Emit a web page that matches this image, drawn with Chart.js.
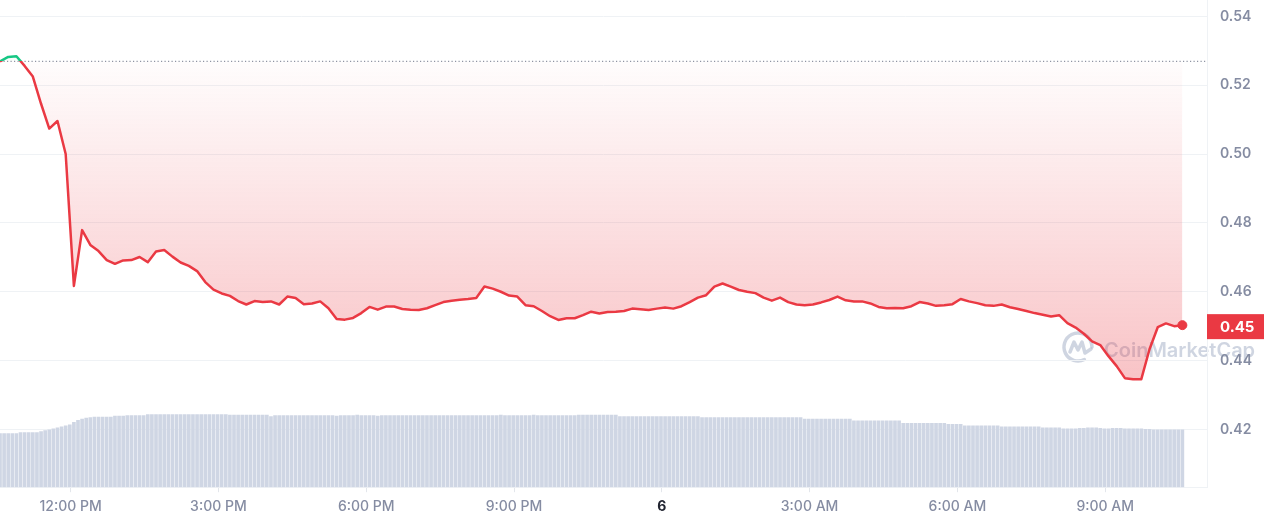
<!DOCTYPE html>
<html>
<head>
<meta charset="utf-8">
<title>Price chart</title>
<script src="https://cdn.jsdelivr.net/npm/chart.js@4.4.1/dist/chart.umd.min.js"></script>
<style>
  html, body { margin: 0; padding: 0; background: #ffffff; }
  #priceChart { display: block; }
</style>
</head>
<body>
<canvas id="priceChart" width="1265" height="522"></canvas>
<script>
// x values are minutes after the first sample (10:34 AM)
const tickTimes = [86, 266, 446, 626, 806, 986, 1166, 1346];
const tickLabels = ['12:00 PM', '3:00 PM', '6:00 PM', '9:00 PM', '6', '3:00 AM', '6:00 AM', '9:00 AM'];
const priceTicks = [0.42, 0.44, 0.46, 0.48, 0.50, 0.52, 0.54];

const openPrice = 0.5269;

// one price every 10 minutes
const prices = [
    0.5269, 0.5282, 0.5284, 0.5256, 0.5225, 0.5146, 0.5074, 0.5096, 0.5000, 0.4617,
    0.4779, 0.4736, 0.4718, 0.4692, 0.4681, 0.4691, 0.4692, 0.4701, 0.4686, 0.4717,
    0.4721, 0.4702, 0.4685, 0.4675, 0.4660, 0.4628, 0.4606, 0.4595, 0.4588, 0.4573,
    0.4563, 0.4573, 0.4570, 0.4572, 0.4563, 0.4586, 0.4582, 0.4564, 0.4566, 0.4572,
    0.4552, 0.4521, 0.4519, 0.4524, 0.4538, 0.4556, 0.4548, 0.4557, 0.4557, 0.4550,
    0.4548, 0.4547, 0.4552, 0.4561, 0.4570, 0.4574, 0.4577, 0.4579, 0.4582, 0.4615,
    0.4609, 0.4600, 0.4589, 0.4586, 0.4561, 0.4558, 0.4544, 0.4529, 0.4518, 0.4523,
    0.4523, 0.4532, 0.4542, 0.4537, 0.4541, 0.4542, 0.4544, 0.4551, 0.4549, 0.4547,
    0.4551, 0.4554, 0.4551, 0.4558, 0.4570, 0.4583, 0.4590, 0.4615, 0.4624, 0.4615,
    0.4605, 0.4600, 0.4596, 0.4583, 0.4574, 0.4583, 0.4570, 0.4563, 0.4561, 0.4563,
    0.4569, 0.4576, 0.4586, 0.4575, 0.4572, 0.4572, 0.4566, 0.4556, 0.4552, 0.4553,
    0.4552, 0.4558, 0.4570, 0.4566, 0.4559, 0.4561, 0.4564, 0.4579, 0.4572, 0.4567,
    0.4561, 0.4559, 0.4563, 0.4555, 0.4550, 0.4544, 0.4538, 0.4533, 0.4528, 0.4532,
    0.4509, 0.4496, 0.4478, 0.4456, 0.4445, 0.4413, 0.4384, 0.4349, 0.4346, 0.4346,
    0.4433, 0.4497, 0.4508, 0.4500, 0.4503
];

// one volume bar every 5 minutes (millions)
const volumes = [
    11.0, 11.0, 11.0, 11.0, 11.0, 11.2, 11.2, 11.2, 11.2, 11.2, 11.4, 11.6, 11.8, 12.0, 12.2, 12.4, 12.6, 12.8, 13.3, 13.7,
    14.0, 14.2, 14.3, 14.4, 14.4, 14.4, 14.4, 14.4, 14.6, 14.6, 14.6, 14.7, 14.7, 14.7, 14.7, 14.7, 14.9, 14.9, 14.9, 14.9,
    14.9, 14.9, 14.9, 14.9, 14.9, 14.9, 14.9, 14.9, 14.9, 14.9, 14.9, 14.9, 14.9, 14.9, 14.9, 14.9, 14.8, 14.8, 14.8, 14.8,
    14.8, 14.8, 14.8, 14.8, 14.8, 14.8, 14.5, 14.7, 14.7, 14.7, 14.7, 14.7, 14.7, 14.7, 14.7, 14.7, 14.7, 14.7, 14.7, 14.7,
    14.7, 14.7, 14.6, 14.7, 14.7, 14.7, 14.7, 14.8, 14.7, 14.7, 14.7, 14.7, 14.6, 14.7, 14.7, 14.7, 14.7, 14.7, 14.7, 14.7,
    14.7, 14.7, 14.7, 14.7, 14.7, 14.7, 14.7, 14.7, 14.7, 14.7, 14.7, 14.7, 14.7, 14.7, 14.7, 14.7, 14.7, 14.7, 14.7, 14.7,
    14.7, 14.7, 14.8, 14.7, 14.7, 14.7, 14.7, 14.7, 14.7, 14.7, 14.8, 14.7, 14.7, 14.7, 14.7, 14.7, 14.7, 14.7, 14.7, 14.7,
    14.7, 14.8, 14.8, 14.8, 14.8, 14.8, 14.8, 14.8, 14.8, 14.8, 14.8, 14.5, 14.5, 14.5, 14.5, 14.5, 14.5, 14.5, 14.5, 14.5,
    14.5, 14.5, 14.5, 14.5, 14.5, 14.5, 14.5, 14.5, 14.5, 14.5, 14.5, 14.3, 14.3, 14.3, 14.3, 14.3, 14.3, 14.3, 14.3, 14.3,
    14.3, 14.3, 14.3, 14.3, 14.3, 14.3, 14.3, 14.3, 14.3, 14.3, 14.3, 14.3, 14.3, 14.3, 14.3, 14.3, 14.0, 14.0, 14.0, 14.0,
    14.0, 14.0, 14.0, 14.0, 14.0, 14.0, 14.0, 14.0, 13.6, 13.6, 13.6, 13.6, 13.6, 13.6, 13.6, 13.6, 13.6, 13.6, 13.6, 13.6,
    13.1, 13.1, 13.1, 13.1, 13.1, 13.1, 13.1, 13.1, 13.1, 13.1, 13.1, 12.9, 12.9, 12.9, 12.9, 12.6, 12.6, 12.6, 12.6, 12.6,
    12.6, 12.6, 12.6, 12.6, 12.4, 12.4, 12.4, 12.4, 12.4, 12.4, 12.4, 12.4, 12.4, 12.4, 12.2, 12.2, 12.2, 12.2, 12.2, 12.0,
    12.0, 12.0, 12.0, 12.1, 12.1, 12.2, 12.2, 12.2, 12.1, 12.0, 12.0, 12.1, 12.1, 12.1, 12.0, 12.0, 12.0, 12.0, 12.0, 11.9,
    11.9, 11.8, 11.8, 11.8, 11.8, 11.8, 11.8, 11.8, 11.8
];

const priceTimes = prices.map((p, i) => i * 10);
const volumeTimes = volumes.map((v, i) => i * 5);

const red = '#ea3943';
const green = '#16c784';
const labelGray = '#858ca2';
const gridGray = '#eff2f5';
const watermarkColor = 'rgba(160, 172, 195, 0.5)';

Chart.defaults.font.family = 'Inter';

function openPriceStop(chart, top, bottom) {
    const openY = chart.scales.y.getPixelForValue(openPrice);
    const stop = (openY - top) / (bottom - top);
    return Math.min(1, Math.max(0, stop));
}

// green above the open price, red below it
function lineColor(context) {
    const chart = context.chart;
    const area = chart.chartArea;
    if (!area) return red;
    const stop = openPriceStop(chart, area.top, area.bottom);
    const gradient = chart.ctx.createLinearGradient(0, area.top, 0, area.bottom);
    gradient.addColorStop(0, green);
    gradient.addColorStop(stop, green);
    gradient.addColorStop(stop, red);
    gradient.addColorStop(1, red);
    return gradient;
}

function fillColor(context) {
    const chart = context.chart;
    const area = chart.chartArea;
    if (!area) return 'rgba(234, 57, 67, 0.15)';
    const lowY = chart.scales.y.getPixelForValue(Math.min(...prices));
    const stop = openPriceStop(chart, area.top, lowY);
    const gradient = chart.ctx.createLinearGradient(0, area.top, 0, lowY);
    gradient.addColorStop(0, 'rgba(22, 199, 132, 0.15)');
    gradient.addColorStop(stop, 'rgba(22, 199, 132, 0.02)');
    gradient.addColorStop(stop, 'rgba(234, 57, 67, 0.01)');
    gradient.addColorStop(1, 'rgba(234, 57, 67, 0.30)');
    return gradient;
}

const watermarkPlugin = {
    id: 'watermark',
    beforeDraw(chart) {
        const ctx = chart.ctx;
        const cx = 1078;
        const cy = 347;
        ctx.save();
        ctx.strokeStyle = watermarkColor;
        ctx.fillStyle = watermarkColor;
        ctx.lineWidth = 3.5;
        ctx.lineCap = 'round';
        ctx.lineJoin = 'round';
        ctx.beginPath();
        ctx.arc(cx, cy, 14, 0.35 * Math.PI, 2 * Math.PI);
        ctx.stroke();
        ctx.beginPath();
        ctx.moveTo(cx - 8, cy + 5);
        ctx.lineTo(cx - 4, cy - 5);
        ctx.lineTo(cx, cy + 3);
        ctx.lineTo(cx + 4, cy - 5);
        ctx.lineTo(cx + 7, cy + 6);
        ctx.lineTo(cx + 13, cy + 2);
        ctx.stroke();
        ctx.font = '600 20px Inter';
        ctx.textBaseline = 'alphabetic';
        ctx.fillText('CoinMarketCap', 1104, 357);
        ctx.restore();
    }
};

const lastPriceTagPlugin = {
    id: 'lastPriceTag',
    afterDraw(chart) {
        const ctx = chart.ctx;
        const lastPrice = prices[prices.length - 1];
        const y = chart.scales.y.getPixelForValue(lastPrice);
        const left = chart.chartArea.right;
        ctx.save();
        ctx.fillStyle = red;
        ctx.fillRect(left, y - 11, 57, 25);
        ctx.fillStyle = '#ffffff';
        ctx.font = '700 15px Inter';
        ctx.textBaseline = 'middle';
        ctx.fillText(lastPrice.toFixed(2), left + 13, y + 2);
        ctx.restore();
    }
};

new Chart(document.getElementById('priceChart').getContext('2d'), {
    type: 'line',
    data: {
        datasets: [
            {
                label: 'Price',
                data: priceTimes.map((t, i) => ({ x: t, y: prices[i] })),
                yAxisID: 'y',
                order: 0,
                borderColor: lineColor,
                backgroundColor: fillColor,
                borderWidth: 2.5,
                borderJoinStyle: 'round',
                fill: { value: openPrice },
                tension: 0,
                pointRadius: ctx => ctx.dataIndex === prices.length - 1 ? 4.5 : 0,
                pointBackgroundColor: red,
                pointBorderColor: red,
                pointBorderWidth: 1
            },
            {
                label: 'Open',
                data: [{ x: 0, y: openPrice }, { x: 1470, y: openPrice }],
                yAxisID: 'y',
                order: 1,
                borderColor: '#8e94a3',
                borderWidth: 1.2,
                borderDash: [1.2, 2.3],
                pointRadius: 0,
                fill: false
            },
            {
                type: 'bar',
                label: 'Volume',
                data: volumeTimes.map((t, i) => ({ x: t, y: volumes[i] })),
                yAxisID: 'yVolume',
                order: 2,
                backgroundColor: '#cfd6e4',
                barThickness: 3
            }
        ]
    },
    options: {
        responsive: false,
        animation: false,
        layout: { autoPadding: false, padding: { bottom: 1 } },
        plugins: {
            legend: { display: false },
            tooltip: { enabled: false }
        },
        scales: {
            x: {
                type: 'linear',
                offset: false,
                min: 0,
                max: 1470,
                afterBuildTicks: scale => {
                    scale.ticks = tickTimes.map(t => ({ value: t }));
                },
                afterFit: scale => {
                    scale.paddingLeft = 0;
                    scale.paddingRight = 0;
                },
                grid: {
                    offset: false,
                    drawOnChartArea: false,
                    drawTicks: true,
                    tickLength: 5,
                    color: '#e3e6eb'
                },
                border: { display: true, color: gridGray },
                ticks: {
                    autoSkip: false,
                    maxRotation: 0,
                    padding: 6,
                    callback: value => tickLabels[tickTimes.indexOf(value)],
                    color: ctx => ctx.tick && ctx.tick.label === '6' ? '#222531' : labelGray,
                    font: ctx => ctx.tick && ctx.tick.label === '6'
                        ? { size: 14, weight: '700' }
                        : { size: 14, weight: '500' }
                }
            },
            y: {
                position: 'right',
                min: 0.40323,
                max: 0.54474,
                afterBuildTicks: scale => {
                    scale.ticks = priceTicks.map(v => ({ value: v }));
                },
                afterFit: scale => {
                    scale.width = 58;
                    scale.paddingTop = 0;
                    scale.paddingBottom = 0;
                },
                grid: { color: gridGray, drawTicks: false },
                border: { display: true, color: gridGray },
                ticks: {
                    padding: 13,
                    color: labelGray,
                    font: { size: 14, weight: '600' },
                    callback: value => value.toFixed(2)
                }
            },
            yVolume: {
                display: false,
                min: 0,
                max: 100
            }
        }
    },
    plugins: [watermarkPlugin, lastPriceTagPlugin]
});
</script>
</body>
</html>
